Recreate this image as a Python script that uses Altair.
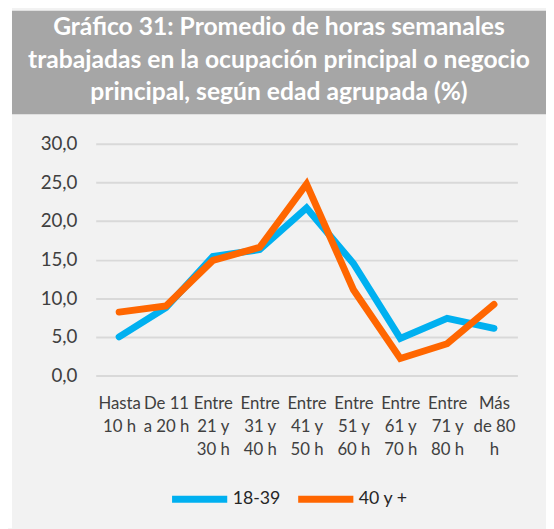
import altair as alt
import pandas as pd

categories = ["Hasta\n10 h", "De 11\na 20 h", "Entre\n21 y\n30 h", "Entre\n31 y\n40 h",
              "Entre\n41 y\n50 h", "Entre\n51 y\n60 h", "Entre\n61 y\n70 h",
              "Entre\n71 y\n80 h", "Más\nde 80\nh"]
serie_18_39 = [5.0, 8.8, 15.4, 16.3, 21.7, 14.5, 4.8, 7.4, 6.1]
serie_40 = [8.2, 9.0, 14.9, 16.6, 24.8, 11.1, 2.2, 4.1, 9.2]
series_names = ["18-39", "40 y +"]
title_lines = ["Gráfico 31: Promedio de horas semanales",
               "trabajadas en la ocupación principal o negocio",
               "principal, según edad agrupada (%)"]

rows = []
for name, vals in zip(series_names, [serie_18_39, serie_40]):
    for c, v in zip(categories, vals):
        rows.append({"cat": c, "val": v, "serie": name})
df = pd.DataFrame(rows)

one = alt.Data(values=[{}])
band = alt.Chart(one).mark_rect(color="#a6a6a6").encode(
    x=alt.value(-85), x2=alt.value(457), y=alt.value(-135), y2=alt.value(-30))
strip = alt.Chart(one).mark_rect(color="white").encode(
    x=alt.value(-90), x2=alt.value(-85), y=alt.value(-140), y2=alt.value(390))
title = alt.Chart(one).mark_text(
    font="Lato", fontSize=25, fontWeight="bold", color="white",
    align="center", baseline="middle", lineHeight=33).encode(
    x=alt.value(186), y=alt.value(-118), text=alt.value(title_lines))

lines = alt.Chart(df).mark_line(strokeWidth=7, strokeCap="round").encode(
    x=alt.X("cat:N", sort=categories, title=None,
            scale=alt.Scale(type="point", padding=0.5),
            axis=alt.Axis(labelExpr="split(datum.label, '\\n')", labelAngle=0,
                          labelBaseline="top", labelPadding=21, labelLineHeight=23,
                          labelFontSize=17, labelColor="#404040", labelFont="Lato",
                          ticks=False, domain=False, grid=False)),
    y=alt.Y("val:Q", title=None, scale=alt.Scale(domain=[0, 30]),
            axis=alt.Axis(values=[0, 5, 10, 15, 20, 25, 30],
                          labelExpr="replace(format(datum.value, '.1f'), '.', ',')",
                          labelFontSize=19, labelColor="#404040", labelFont="Lato",
                          labelPadding=19, ticks=False, domain=False,
                          gridColor="#d9d9d9", gridWidth=2)),
    color=alt.Color("serie:N", sort=series_names,
                    scale=alt.Scale(domain=series_names, range=["#00b0f0", "#ff6600"]),
                    legend=alt.Legend(title=None, orient="none", legendX=74, legendY=329,
                                      direction="horizontal", symbolType="stroke",
                                      symbolSize=3136, symbolStrokeWidth=7,
                                      labelFontSize=18, labelColor="#262626",
                                      labelFont="Lato", labelOffset=2, columnPadding=3)),
)

chart = alt.layer(band, strip, title, lines).properties(
    width=428, height=235,
    autosize=alt.AutoSizeParams(type="none"),
    padding={"left": 89, "top": 134, "right": 29, "bottom": 152},
    background="#f2f2f2",
).configure_view(stroke=None)

chart.save("out.html", embed_options={"renderer": "svg", "actions": False})
